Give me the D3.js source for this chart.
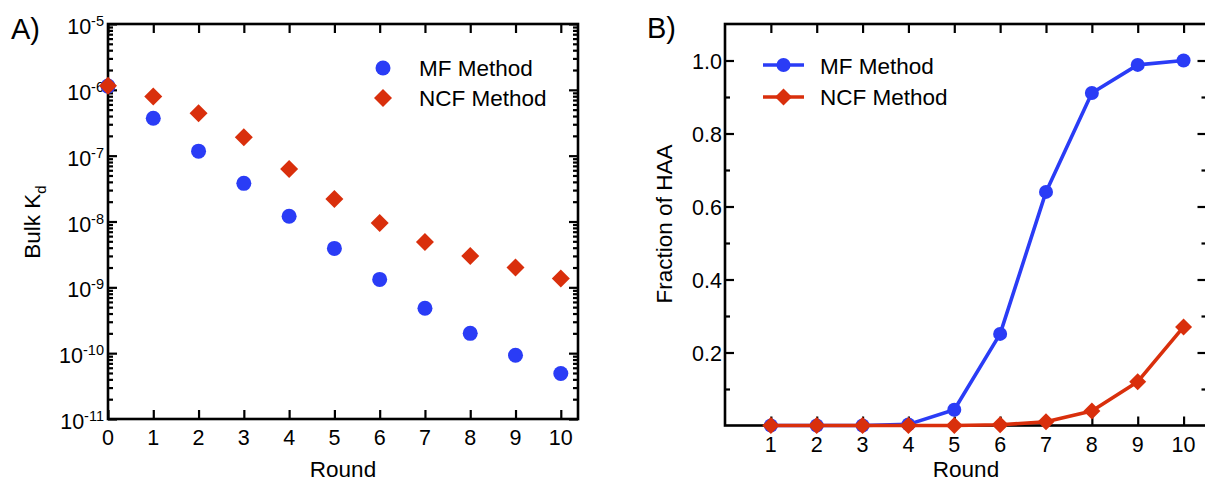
<!DOCTYPE html>
<html><head><meta charset="utf-8">
<script src="https://cdn.jsdelivr.net/npm/d3@7"></script>
<style>
html,body{margin:0;padding:0;background:#fff;}
svg{display:block;font-family:"Liberation Sans",Arial,Helvetica,sans-serif;}
</style></head>
<body>
<svg id="chart" width="1205" height="484"></svg>
<script>
// ---------- data ----------
const roundsA = [0,1,2,3,4,5,6,7,8,9,10];
const mfKd  = [1.14e-6, 3.7e-7, 1.17e-7, 3.8e-8, 1.2e-8, 3.9e-9, 1.32e-9, 4.8e-10, 2.0e-10, 9.3e-11, 4.9e-11];
const ncfKd = [1.15e-6, 7.9e-7, 4.4e-7, 1.9e-7, 6.3e-8, 2.2e-8, 9.5e-9, 4.9e-9, 3.0e-9, 2.0e-9, 1.36e-9];
const kdTickExps = [-5,-6,-7,-8,-9,-10,-11];

const roundsB = [1,2,3,4,5,6,7,8,9,10];
const mfHAA  = [0, 0, 0, 0.003, 0.043, 0.251, 0.64, 0.911, 0.988, 1.0];
const ncfHAA = [0, 0, 0, 0, 0, 0.002, 0.01, 0.04, 0.12, 0.27];
const haaTicks = [0.2, 0.4, 0.6, 0.8, 1.0];
const haaMinor = [0.1, 0.3, 0.5, 0.7, 0.9];

const seriesNames = ["MF Method", "NCF Method"];
const BLUE = "#2a3cf6", RED = "#d92f0c";

const svg = d3.select("#chart");
const diamond = s => `M0,${-s}L${s},0L0,${s}L${-s},0Z`;

function styleAxis(g){
  g.select(".domain").remove();
  g.selectAll(".tick line").attr("stroke","#000").attr("stroke-width",2.2);
  g.selectAll("text").remove();
}

// ================= Panel A =================
const A = {l:108, r:578, t:24, b:419};
const xA = d3.scaleLinear().domain([0, 10.38]).range([A.l, A.r]);
const yA = d3.scaleLog().domain([1e-11, 1e-5]).range([A.b, A.t]);
const gA = svg.append("g");

const majA = kdTickExps.map(e => Math.pow(10, e));
const minA = [];
for (let e=-11; e<-5; e++) for (let m=2; m<=9; m++) minA.push(m*Math.pow(10,e));

gA.append("g").attr("transform",`translate(0,${A.b})`)
  .call(d3.axisBottom(xA).tickValues(roundsA).tickSize(-9).tickSizeOuter(0)).call(styleAxis);
gA.append("g").attr("transform",`translate(0,${A.t})`)
  .call(d3.axisTop(xA).tickValues(roundsA).tickSize(-9).tickSizeOuter(0)).call(styleAxis);
gA.append("g").attr("transform",`translate(${A.l},0)`)
  .call(d3.axisLeft(yA).tickValues(majA).tickSize(-9).tickSizeOuter(0)).call(styleAxis);
gA.append("g").attr("transform",`translate(${A.l},0)`)
  .call(d3.axisLeft(yA).tickValues(minA).tickSize(-5).tickSizeOuter(0)).call(styleAxis);
gA.append("g").attr("transform",`translate(${A.r},0)`)
  .call(d3.axisRight(yA).tickValues(majA).tickSize(-9).tickSizeOuter(0)).call(styleAxis);
gA.append("g").attr("transform",`translate(${A.r},0)`)
  .call(d3.axisRight(yA).tickValues(minA).tickSize(-5).tickSizeOuter(0)).call(styleAxis);

gA.append("rect").attr("x",A.l).attr("y",A.t).attr("width",A.r-A.l).attr("height",A.b-A.t)
  .attr("fill","none").attr("stroke","#000").attr("stroke-width",2.6);

// x tick labels
gA.selectAll(".xlab").data(roundsA).enter().append("text")
  .attr("x",d=>xA(d)).attr("y",445).attr("text-anchor","middle")
  .attr("font-size",21.5).text(d=>d);
// y tick labels 10^e
kdTickExps.forEach(e=>{
  const t = gA.append("text").attr("x",104).attr("y",yA(Math.pow(10,e))+10)
    .attr("text-anchor","end").attr("font-size",21.5);
  t.append("tspan").text("10");
  t.append("tspan").attr("dy",-8).attr("font-size",14.5).text("-"+(-e));
});
// axis titles
gA.append("text").attr("x",343).attr("y",477).attr("text-anchor","middle").attr("font-size",22.5).text("Round");
const ylA = gA.append("text").attr("transform","translate(40,222) rotate(-90)")
  .attr("text-anchor","middle").attr("font-size",22.5);
ylA.append("tspan").text("Bulk K");
ylA.append("tspan").attr("dy",6).attr("font-size",15).text("d");
gA.append("text").attr("x",11).attr("y",39).attr("font-size",29).text("A)");

// markers
gA.selectAll(".mfA").data(roundsA).enter().append("circle")
  .attr("cx",(d,i)=>xA(d)).attr("cy",(d,i)=>yA(mfKd[i])).attr("r",7.5).attr("fill",BLUE);
gA.selectAll(".ncfA").data(roundsA).enter().append("path")
  .attr("d",diamond(9)).attr("fill",RED)
  .attr("transform",(d,i)=>`translate(${xA(d)},${yA(ncfKd[i])})`);

// legend A
gA.append("circle").attr("cx",383).attr("cy",68).attr("r",7.5).attr("fill",BLUE);
gA.append("path").attr("d",diamond(9)).attr("fill",RED).attr("transform","translate(383,98)");
gA.append("text").attr("x",419).attr("y",76).attr("font-size",22.5).text(seriesNames[0]);
gA.append("text").attr("x",419).attr("y",106).attr("font-size",22.5).text(seriesNames[1]);

// ================= Panel B =================
const B = {l:725, r:1206.5, t:24, b:425.5};
const xB = d3.scaleLinear().domain([0, 10.5]).range([B.l, B.r]);
const yB = d3.scaleLinear().domain([0, 1.1]).range([B.b, B.t]);
const gB = svg.append("g");

gB.append("g").attr("transform",`translate(0,${B.b})`)
  .call(d3.axisBottom(xB).tickValues(roundsB).tickSize(-9).tickSizeOuter(0)).call(styleAxis);
gB.append("g").attr("transform",`translate(0,${B.t})`)
  .call(d3.axisTop(xB).tickValues(roundsB).tickSize(-9).tickSizeOuter(0)).call(styleAxis);
gB.append("g").attr("transform",`translate(${B.l},0)`)
  .call(d3.axisLeft(yB).tickValues(haaTicks).tickSize(-9).tickSizeOuter(0)).call(styleAxis);
gB.append("g").attr("transform",`translate(${B.l},0)`)
  .call(d3.axisLeft(yB).tickValues(haaMinor).tickSize(-5).tickSizeOuter(0)).call(styleAxis);
gB.append("g").attr("transform",`translate(${B.r},0)`)
  .call(d3.axisRight(yB).tickValues(haaTicks).tickSize(-9).tickSizeOuter(0)).call(styleAxis);
gB.append("g").attr("transform",`translate(${B.r},0)`)
  .call(d3.axisRight(yB).tickValues(haaMinor).tickSize(-5).tickSizeOuter(0)).call(styleAxis);

gB.append("rect").attr("x",B.l).attr("y",B.t).attr("width",B.r-B.l).attr("height",B.b-B.t)
  .attr("fill","none").attr("stroke","#000").attr("stroke-width",2.6);

gB.selectAll(".xlabB").data(roundsB).enter().append("text")
  .attr("x",d=>xB(d)).attr("y",452).attr("text-anchor","middle")
  .attr("font-size",21.5).text(d=>d);
gB.selectAll(".ylabB").data(haaTicks).enter().append("text")
  .attr("x",722).attr("y",d=>yB(d)+8).attr("text-anchor","end")
  .attr("font-size",21.5).text(d=>d3.format(".1f")(d));
gB.append("text").attr("x",966).attr("y",477).attr("text-anchor","middle").attr("font-size",22.5).text("Round");
gB.append("text").attr("transform","translate(672,224) rotate(-90)")
  .attr("text-anchor","middle").attr("font-size",22.5).text("Fraction of HAA");
gB.append("text").attr("x",647).attr("y",38).attr("font-size",29).text("B)");

const lineB = vals => d3.line().x((d,i)=>xB(roundsB[i])).y(d=>yB(d))(vals);
gB.append("path").attr("d",lineB(mfHAA)).attr("fill","none").attr("stroke",BLUE)
  .attr("stroke-width",3.6).attr("stroke-linejoin","round");
gB.selectAll(".mfB").data(roundsB).enter().append("circle")
  .attr("cx",d=>xB(d)).attr("cy",(d,i)=>yB(mfHAA[i])).attr("r",7).attr("fill",BLUE);
gB.append("path").attr("d",lineB(ncfHAA)).attr("fill","none").attr("stroke",RED)
  .attr("stroke-width",3.6).attr("stroke-linejoin","round");
gB.selectAll(".ncfB").data(roundsB).enter().append("path")
  .attr("d",diamond(8.5)).attr("fill",RED)
  .attr("transform",(d,i)=>`translate(${xB(d)},${yB(ncfHAA[i])})`);

// legend B
gB.append("line").attr("x1",763).attr("x2",804).attr("y1",65).attr("y2",65).attr("stroke",BLUE).attr("stroke-width",3.6);
gB.append("circle").attr("cx",783.5).attr("cy",65).attr("r",7).attr("fill",BLUE);
gB.append("line").attr("x1",763).attr("x2",804).attr("y1",97).attr("y2",97).attr("stroke",RED).attr("stroke-width",3.6);
gB.append("path").attr("d",diamond(8.5)).attr("fill",RED).attr("transform","translate(783.5,97)");
gB.append("text").attr("x",820).attr("y",74).attr("font-size",22.5).text(seriesNames[0]);
gB.append("text").attr("x",820).attr("y",105).attr("font-size",22.5).text(seriesNames[1]);
</script>
</body></html>
